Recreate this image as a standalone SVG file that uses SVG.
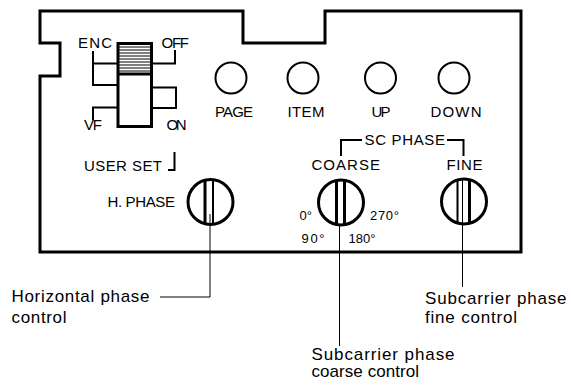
<svg xmlns="http://www.w3.org/2000/svg" width="571" height="387" viewBox="0 0 571 387">
<style>
.ln{fill:none;stroke:#000;stroke-width:2;stroke-linecap:square}
.thick{fill:none;stroke:#000;stroke-width:3}
.thin{fill:none;stroke:#000;stroke-width:1}
.t{font-family:"Liberation Sans",Arial,sans-serif;font-size:15px;fill:#000}
.s{font-family:"Liberation Sans",Arial,sans-serif;font-size:13px;fill:#000}
.c{font-family:"Liberation Sans",Arial,sans-serif;font-size:17px;fill:#000}
</style>
<rect width="571" height="387" fill="#fff"/>
<g id="panel">
<path class="thick" d="M40,11 H243 V43 H325 V11 H521 V252 H40 V76 H60 V43 H40 Z"/>
</g>
<g id="switch">
<rect x="118" y="43.5" width="33.5" height="83" class="thick" fill="#fff"/>
<path class="thin" d="M119,47 H151 M119,50 H151 M119,53 H151 M119,56 H151 M119,59 H151 M119,62 H151 M119,65 H151 M119,68 H151 M119,71 H151"/>
<path class="thick" d="M118,74 H152"/>
<path class="ln" d="M93,52 V85 H118 M93,63.5 H118"/>
<path class="ln" d="M175,51 V63.5 H152"/>
<path class="ln" d="M152,87.5 H176 V108 H152"/>
<path class="ln" d="M93,119 V107.5 H118"/>
<text class="t" x="78" y="48" textLength="34">ENC</text>
<text class="t" x="161.5" y="48" textLength="27.5">OFF</text>
<text class="t" x="84" y="130" textLength="18">VF</text>
<text class="t" x="166.5" y="130" textLength="20">ON</text>
</g>
<g id="userset">
<text class="t" x="84" y="171" textLength="78">USER SET</text>
<path class="ln" d="M169,170 H174.5 V153"/>
</g>
<g id="btn-page">
<circle cx="231" cy="78" r="15.5" class="ln"/>
<text class="t" x="234" y="116.5" text-anchor="middle" textLength="38">PAGE</text>
</g>
<g id="btn-item">
<circle cx="303" cy="78" r="15.5" class="ln"/>
<text class="t" x="306" y="116.5" text-anchor="middle" textLength="37">ITEM</text>
</g>
<g id="btn-up">
<circle cx="380.5" cy="78" r="15.5" class="ln"/>
<text class="t" x="381" y="116.5" text-anchor="middle" textLength="19">UP</text>
</g>
<g id="btn-down">
<circle cx="454" cy="78" r="15.5" class="ln"/>
<text class="t" x="456" y="116.5" text-anchor="middle" textLength="51">DOWN</text>
</g>
<g id="scphase">
<text class="t" x="364.5" y="145" textLength="80.5">SC PHASE</text>
<path class="ln" d="M341,155 V140 H361 M448,140 H463.5 V155"/>
<text class="t" x="311.5" y="170" textLength="68.5">COARSE</text>
<text class="t" x="446.5" y="170" textLength="36">FINE</text>
</g>
<g id="knob-hphase">
<text class="t" x="107.5" y="207" textLength="67.5">H. PHASE</text>
<circle cx="210.5" cy="202" r="22.5" class="thick" stroke-width="2.5"/>
<path class="thick" stroke-width="2.5" d="M205,180.5 V223.5"/>
<path class="ln" stroke-width="1.6" d="M213,180.3 V223.7"/>
</g>
<g id="knob-coarse">
<circle cx="341" cy="202.5" r="22.5" class="thick" stroke-width="2.5"/>
<path class="thick" stroke-width="2.5" d="M336.5,180.5 V224.5 M344.5,180.3 V224.7"/>
<text class="s" x="299.5" y="220">0°</text>
<text class="s" x="370" y="220" textLength="29">270°</text>
<text class="s" x="301.5" y="242.5" textLength="23">90°</text>
<text class="s" x="348.5" y="242.5">180°</text>
</g>
<g id="knob-fine">
<circle cx="464" cy="201.5" r="22.5" class="thick" stroke-width="2.5"/>
<path class="ln" d="M457.5,180 V223"/>
<path class="thin" d="M462.5,179.2 V223.8"/>
<path class="thick" stroke-width="2.5" d="M469.5,179.7 V223.3"/>
</g>
<g id="connectors">
<path class="thin" d="M210,214 V297 H160"/>
<path class="thin" d="M339.5,224 V346"/>
<path class="thin" d="M462.5,217 V287"/>
</g>
<g id="callout-h">
<text class="c" x="11.5" y="302" textLength="138">Horizontal phase</text>
<text class="c" x="11.5" y="322.5" textLength="55">control</text>
</g>
<g id="callout-fine">
<text class="c" x="425" y="304" textLength="141.5">Subcarrier phase</text>
<text class="c" x="425" y="322.5" textLength="92">fine control</text>
</g>
<g id="callout-coarse">
<text class="c" x="311.5" y="359.5" textLength="143">Subcarrier phase</text>
<text class="c" x="311.5" y="377" textLength="107.5">coarse control</text>
</g>
</svg>
